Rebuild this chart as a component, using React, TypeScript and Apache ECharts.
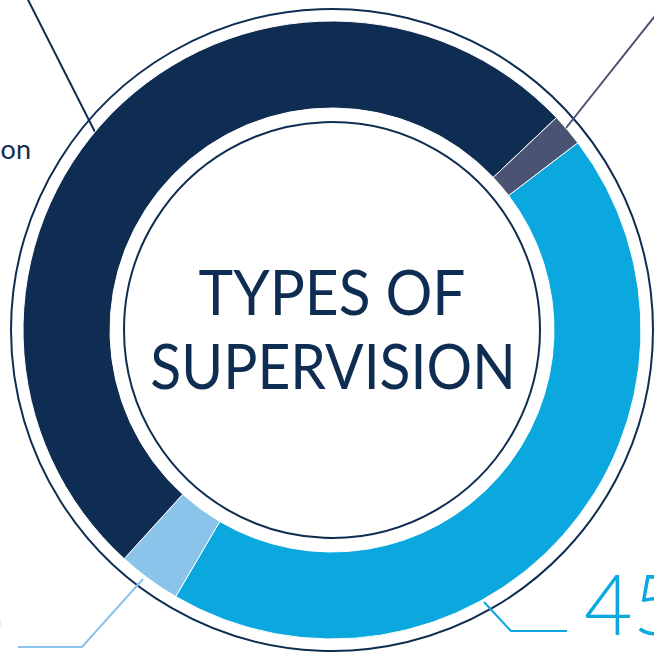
import React, { useEffect, useRef } from "react";
import * as echarts from "echarts";

const categories = ["Group supervision", "Other", "Direct supervision", "Peer supervision"];
const values = [43.8, 3.3, 51.2, 1.7];
const colors = ["#0aa8de", "#8ac4ea", "#0f2d52", "#4b5373"];
const titleLines = ["TYPES OF", "SUPERVISION"];
const bigLabels = ["45%", "3"];
const sideLabel = "Direct supervision";

export default function App() {
  const ref = useRef<HTMLDivElement>(null);
  useEffect(() => {
    if (!ref.current) return;
    const chart = echarts.init(ref.current, null, { renderer: "svg" });
    const cx = 332;
    const cy = 330;
    const lineW = 2;
    chart.setOption({
      animation: false,
      backgroundColor: "#ffffff",
      series: [
        {
          type: "pie",
          center: [cx, cy],
          radius: [222, 309],
          startAngle: 37.3,
          clockwise: true,
          silent: true,
          label: { show: false },
          labelLine: { show: false },
          itemStyle: { borderColor: "#ffffff", borderWidth: 1 },
          data: categories.map((c, i) => ({
            name: c,
            value: values[i],
            itemStyle: { color: colors[i] },
          })),
        },
      ],
      graphic: [
        {
          type: "circle",
          shape: { cx, cy, r: 321 },
          style: { fill: "none", stroke: "#0f2d52", lineWidth: lineW },
          silent: true,
        },
        {
          type: "circle",
          shape: { cx, cy, r: 208 },
          style: { fill: "none", stroke: "#0f2d52", lineWidth: lineW },
          silent: true,
        },
        {
          type: "text",
          x: cx,
          y: 291,
          scaleX: 0.945,
          style: {
            text: titleLines[0],
            fill: "#0f2d52",
            font: "400 62px Lato",
            textAlign: "center",
            textVerticalAlign: "middle",
          },
        },
        {
          type: "text",
          x: 333,
          y: 365,
          scaleX: 0.92,
          style: {
            text: titleLines[1],
            fill: "#0f2d52",
            font: "400 62px Lato",
            textAlign: "center",
            textVerticalAlign: "middle",
          },
        },
        // top-left leader line (navy)
        {
          type: "polyline",
          shape: { points: [[95, 132], [20, -16]] },
          style: { stroke: "#0f2d52", lineWidth: lineW, fill: "none" },
        },
        {
          type: "text",
          x: 31,
          y: 148,
          style: {
            text: sideLabel,
            fill: "#0f2d52",
            font: "400 27px Lato",
            textAlign: "right",
            textVerticalAlign: "middle",
          },
        },
        // top-right leader line (grey)
        {
          type: "polyline",
          shape: { points: [[566, 128], [670, -3]] },
          style: { stroke: "#4b5373", lineWidth: lineW, fill: "none" },
        },
        // bottom-left leader line (pale)
        {
          type: "polyline",
          shape: { points: [[143, 579], [82, 647], [18, 647]] },
          style: { stroke: "#8ac4ea", lineWidth: lineW, fill: "none" },
        },
        {
          type: "text",
          x: 6,
          y: 650,
          style: {
            text: bigLabels[1],
            fill: "#8ac4ea",
            font: "300 84px Lato",
            textAlign: "right",
            textVerticalAlign: "bottom",
          },
        },
        // bottom-right leader line (cyan)
        {
          type: "polyline",
          shape: { points: [[484, 602], [511, 631], [567, 631]] },
          style: { stroke: "#0aa8de", lineWidth: lineW, fill: "none" },
        },
        {
          type: "text",
          x: 584,
          y: 602,
          style: {
            text: bigLabels[0],
            fill: "#0aa8de",
            font: "300 84px Lato",
            textAlign: "left",
            textVerticalAlign: "middle",
          },
        },
      ],
    });
    return () => chart.dispose();
  }, []);
  return (
    <div
      ref={ref}
      style={{ position: "fixed", left: 0, top: 0, width: 654, height: 654 }}
    />
  );
}
